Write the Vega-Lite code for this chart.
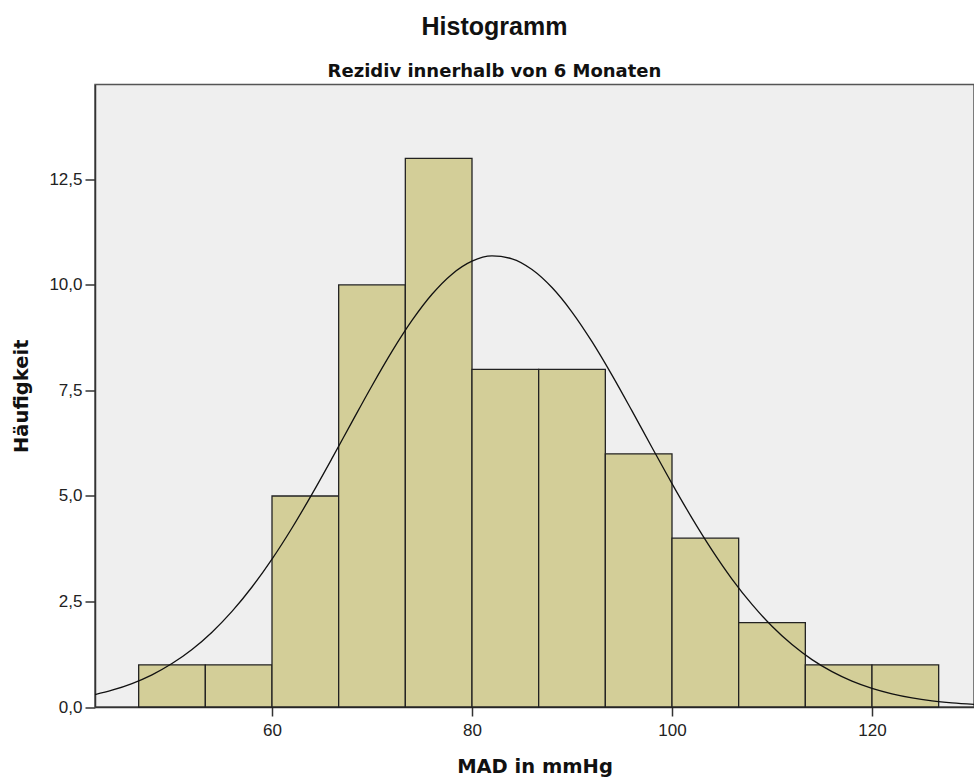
{
  "$schema": "https://vega.github.io/schema/vega-lite/v6.json",
  "width": 879,
  "height": 622.5,
  "autosize": {"type": "none"},
  "padding": {"left": 95, "top": 84.5, "right": 0, "bottom": 76},
  "background": "white",
  "config": {
    "view": {"fill": "#efefef", "stroke": "#555", "strokeWidth": 1.5}
  },
  "title": {
    "text": "Histogramm",
    "subtitle": "Rezidiv innerhalb von 6 Monaten",
    "anchor": "middle",
    "dx": -40,
    "font": "Liberation Sans",
    "fontSize": 25,
    "fontWeight": "bold",
    "color": "#111",
    "subtitleFont": "DejaVu Sans",
    "subtitleFontSize": 18,
    "subtitleFontWeight": "bold",
    "subtitleColor": "#111",
    "subtitlePadding": 23,
    "offset": 4
  },
  "datasets": {
    "bins": [
      {"start": 46.667, "end": 53.333, "count": 1},
      {"start": 53.333, "end": 60, "count": 1},
      {"start": 60, "end": 66.667, "count": 5},
      {"start": 66.667, "end": 73.333, "count": 10},
      {"start": 73.333, "end": 80, "count": 13},
      {"start": 80, "end": 86.667, "count": 8},
      {"start": 86.667, "end": 93.333, "count": 8},
      {"start": 93.333, "end": 100, "count": 6},
      {"start": 100, "end": 106.667, "count": 4},
      {"start": 106.667, "end": 113.333, "count": 2},
      {"start": 113.333, "end": 120, "count": 1},
      {"start": 120, "end": 126.667, "count": 1}
    ],
    "curve": [
      {"x": 42.3, "y": 0.295},
      {"x": 44, "y": 0.398},
      {"x": 46, "y": 0.556},
      {"x": 48, "y": 0.763},
      {"x": 50, "y": 1.029},
      {"x": 52, "y": 1.363},
      {"x": 54, "y": 1.773},
      {"x": 56, "y": 2.265},
      {"x": 58, "y": 2.843},
      {"x": 60, "y": 3.504},
      {"x": 62, "y": 4.242},
      {"x": 64, "y": 5.044},
      {"x": 66, "y": 5.89},
      {"x": 68, "y": 6.757},
      {"x": 70, "y": 7.613},
      {"x": 72, "y": 8.426},
      {"x": 74, "y": 9.159},
      {"x": 76, "y": 9.779},
      {"x": 78, "y": 10.256},
      {"x": 80, "y": 10.564},
      {"x": 82, "y": 10.688},
      {"x": 84, "y": 10.621},
      {"x": 86, "y": 10.367},
      {"x": 88, "y": 9.939},
      {"x": 90, "y": 9.359},
      {"x": 92, "y": 8.656},
      {"x": 94, "y": 7.864},
      {"x": 96, "y": 7.016},
      {"x": 98, "y": 6.15},
      {"x": 100, "y": 5.294},
      {"x": 102, "y": 4.476},
      {"x": 104, "y": 3.718},
      {"x": 106, "y": 3.032},
      {"x": 108, "y": 2.43},
      {"x": 110, "y": 1.912},
      {"x": 112, "y": 1.478},
      {"x": 114, "y": 1.122},
      {"x": 116, "y": 0.837},
      {"x": 118, "y": 0.613},
      {"x": 120, "y": 0.441},
      {"x": 122, "y": 0.312},
      {"x": 124, "y": 0.216},
      {"x": 126, "y": 0.147},
      {"x": 128, "y": 0.099},
      {"x": 130.2, "y": 0.062}
    ]
  },
  "layer": [
    {
      "data": {"name": "bins"},
      "mark": {"type": "rect", "fill": "#d3ce98", "stroke": "#222", "strokeWidth": 1.3},
      "encoding": {
        "x": {
          "field": "start",
          "type": "quantitative",
          "title": "MAD in mmHg",
          "scale": {"domain": [42.3, 130.2], "nice": false, "zero": false},
          "axis": {
            "values": [60, 80, 100, 120],
            "grid": false,
            "tickSize": 9,
            "tickWidth": 1.5,
            "tickColor": "#333",
            "domainColor": "#333",
            "domainWidth": 1.5,
            "labelFont": "Liberation Sans",
            "labelFontSize": 17,
            "labelColor": "#222",
            "labelPadding": 6,
            "labelFlush": false,
            "titleFont": "DejaVu Sans",
            "titleFontSize": 19.5,
            "titleFontWeight": "bold",
            "titleColor": "#111",
            "titlePadding": 19
          }
        },
        "x2": {"field": "end"},
        "y": {
          "field": "count",
          "type": "quantitative",
          "title": "Häufigkeit",
          "scale": {"domain": [0, 14.75], "nice": false},
          "axis": {
            "values": [0, 2.5, 5, 7.5, 10, 12.5],
            "labelExpr": "replace(format(datum.value, '.1f'), '.', ',')",
            "grid": false,
            "tickSize": 10,
            "tickWidth": 1.5,
            "tickColor": "#333",
            "domainColor": "#333",
            "domainWidth": 1.5,
            "labelFont": "Liberation Sans",
            "labelFontSize": 17,
            "labelColor": "#222",
            "labelPadding": 3,
            "titleFont": "DejaVu Sans",
            "titleFontSize": 19.5,
            "titleFontWeight": "bold",
            "titleColor": "#111",
            "titlePadding": 17
          }
        },
        "y2": {"datum": 0}
      }
    },
    {
      "data": {"name": "curve"},
      "mark": {"type": "line", "color": "#111", "strokeWidth": 1.3, "clip": true, "interpolate": "monotone"},
      "encoding": {
        "x": {"field": "x", "type": "quantitative"},
        "y": {"field": "y", "type": "quantitative"}
      }
    }
  ]
}
